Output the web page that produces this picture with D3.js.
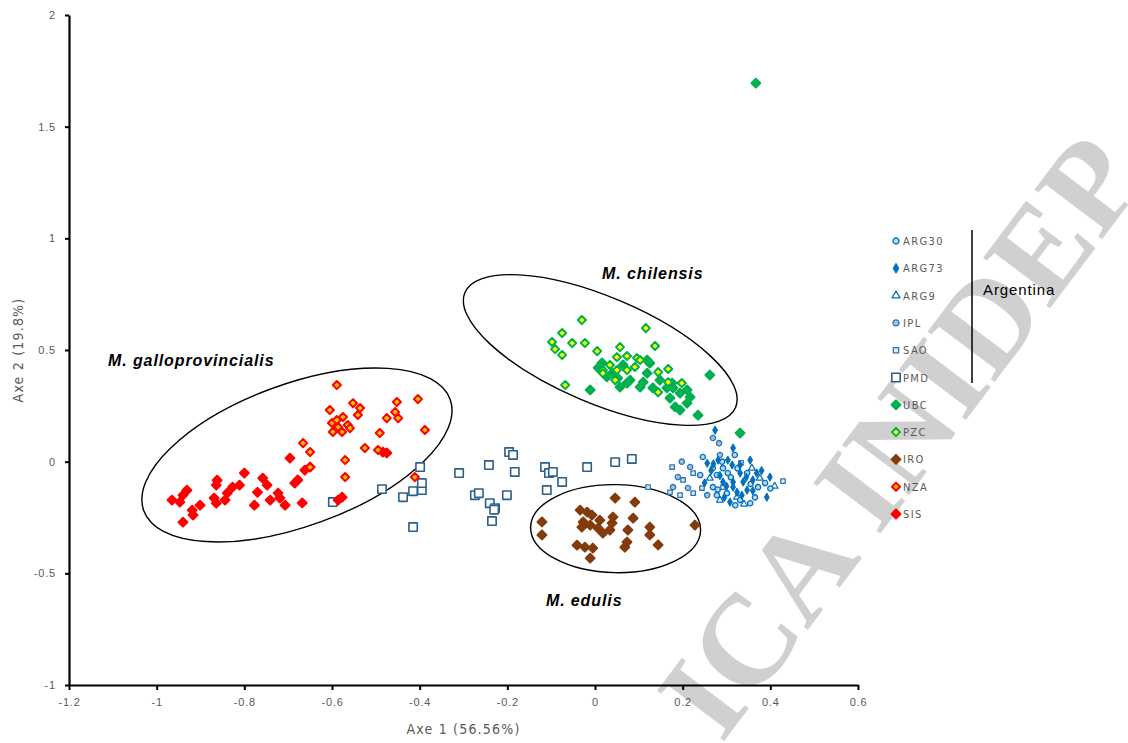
<!DOCTYPE html>
<html>
<head>
<meta charset="utf-8">
<script src="https://cdn.jsdelivr.net/npm/d3@7"></script>
<style>
body { margin: 0; background: #fff; }
text { font-family: "Liberation Sans Narrow", "DejaVu Sans Condensed", sans-serif; }
</style>
</head>
<body>
<svg id="chart" width="1128" height="743"></svg>
<script>
// axis ticks
const xTicks = [-1.2, -1, -0.8, -0.6, -0.4, -0.2, 0, 0.2, 0.4, 0.6];
const yTicks = [-1, -0.5, 0, 0.5, 1, 1.5, 2];

// population names, legend order
const groupNames = ["ARG30", "ARG73", "ARG9", "IPL", "SAO", "PMD", "UBC", "PZC", "IRO", "NZA", "SIS"];

// PCA scores [axe 1, axe 2]
const arg30 = [[0.246,0.021],[0.303,-0.051],[0.278,-0.060],[0.269,-0.114],[0.301,-0.141],[0.278,-0.150],[0.331,-0.172],
    [0.354,-0.186],[0.319,0.030],[0.347,-0.051],[0.372,-0.114],[0.388,-0.096],[0.292,-0.029],[0.290,0.000],[0.325,-0.030],
    [0.310,-0.070],[0.355,-0.100],[0.240,-0.060],[0.365,-0.160],[0.280,-0.125],[0.400,-0.120],[0.320,-0.195]];
const arg73 = [[0.256,-0.007],[0.281,0.007],[0.303,0.007],[0.313,-0.015],[0.331,-0.015],[0.354,0.007],[0.331,-0.051],
    [0.292,-0.091],[0.315,-0.091],[0.338,-0.091],[0.360,-0.082],[0.399,-0.069],[0.347,-0.127],[0.324,-0.137],[0.308,-0.181],
    [0.392,-0.159],[0.274,0.141],[0.315,0.061],[0.369,-0.051],[0.315,-0.114],[0.265,-0.040],[0.285,-0.062],[0.345,-0.070],
    [0.300,-0.110],[0.335,-0.150],[0.360,-0.130],[0.250,-0.095],[0.380,-0.040],[0.295,-0.160],[0.270,-0.010]];
const arg9 = [[0.376,-0.074],[0.358,-0.029],[0.285,-0.172],[0.324,-0.159],[0.410,-0.110],[0.340,-0.190],[0.262,-0.074]];
const ipl = [[0.198,0.000],[0.217,-0.024],[0.189,-0.069],[0.212,-0.118],[0.178,-0.114],[0.269,0.106],[0.283,0.083],
    [0.256,-0.150],[0.269,-0.029],[0.285,0.030]];
const sao = [[0.176,-0.024],[0.224,-0.051],[0.201,-0.082],[0.171,-0.137],[0.194,-0.150],[0.224,-0.141],[0.244,-0.118],
    [0.429,-0.087],[0.121,-0.114],[0.292,-0.114],[0.333,-0.005]];
const pmd = [[-0.486,-0.123],[-0.438,-0.159],[-0.415,-0.132],[-0.395,-0.127],[-0.399,-0.024],[-0.395,-0.096],[-0.415,-0.293],
    [-0.310,-0.051],[-0.274,-0.150],[-0.265,-0.141],[-0.242,-0.015],[-0.240,-0.186],[-0.228,-0.208],[-0.235,-0.266],
    [-0.201,-0.150],[-0.196,0.043],[-0.187,0.030],[-0.183,-0.046],[-0.114,-0.024],[-0.105,-0.051],[-0.096,-0.046],
    [-0.075,-0.091],[-0.110,-0.127],[-0.018,-0.024],[0.046,-0.002],[0.084,0.012],[-0.598,-0.181],[-0.230,-0.215]];
const ubc = [[0.262,0.388],[-0.011,0.321],[0.235,0.208],[0.016,0.442],[0.007,0.420],[0.027,0.380],[0.057,0.334],
    [0.073,0.352],[0.103,0.334],[0.110,0.356],[0.125,0.441],[0.119,0.455],[0.132,0.330],[0.148,0.365],[0.164,0.330],
    [0.178,0.330],[0.194,0.307],[0.210,0.321],[0.171,0.285],[0.183,0.245],[0.194,0.231],[0.210,0.262],[0.217,0.289],
    [0.176,0.352],[0.080,0.365],[0.064,0.433],[0.039,0.396],[0.052,0.374],[0.119,0.396],[0.331,0.128],[0.367,1.695]];
const pzc = [[-0.030,0.634],[0.116,0.598],[-0.075,0.576],[-0.098,0.536],[-0.091,0.504],[-0.075,0.478],[-0.052,0.531],
    [-0.023,0.531],[0.137,0.518],[0.005,0.495],[0.057,0.513],[0.050,0.468],[0.073,0.473],[0.096,0.464],[0.034,0.433],
    [0.050,0.410],[0.018,0.410],[0.073,0.410],[0.091,0.424],[0.018,0.396],[0.046,0.365],[0.144,0.401],[0.167,0.415],
    [0.167,0.356],[0.198,0.352],[0.144,0.311],[-0.068,0.343],[0.103,0.455]];
const iro = [[-0.121,-0.270],[-0.121,-0.328],[-0.034,-0.217],[-0.018,-0.226],[-0.007,-0.239],[-0.027,-0.270],[-0.030,-0.293],
    [-0.011,-0.284],[0.011,-0.262],[0.007,-0.298],[-0.023,-0.383],[-0.005,-0.387],[-0.011,-0.432],[0.018,-0.320],
    [0.034,-0.306],[0.041,-0.248],[0.046,-0.163],[0.039,-0.275],[0.075,-0.306],[0.073,-0.360],[0.068,-0.383],
    [0.087,-0.253],[0.091,-0.181],[0.125,-0.293],[0.125,-0.328],[0.144,-0.373],[0.228,-0.284],[-0.041,-0.374]];
const nza = [[-0.589,0.343],[-0.552,0.262],[-0.536,0.240],[-0.541,0.209],[-0.605,0.231],[-0.600,0.173],[-0.589,0.186],
    [-0.575,0.200],[-0.564,0.164],[-0.598,0.133],[-0.577,0.133],[-0.559,0.150],[-0.586,0.155],[-0.452,0.267],
    [-0.456,0.222],[-0.475,0.195],[-0.449,0.195],[-0.404,0.280],[-0.388,0.142],[-0.491,0.128],[-0.525,0.061],
    [-0.495,0.052],[-0.570,0.007],[-0.570,-0.069],[-0.666,0.083],[-0.650,0.043],[-0.650,-0.024],[-0.411,-0.069]];
const sis = [[-0.965,-0.172],[-0.940,-0.150],[-0.931,-0.128],[-0.947,-0.181],[-0.919,-0.217],[-0.917,-0.239],[-0.940,-0.271],
    [-0.901,-0.195],[-0.862,-0.083],[-0.864,-0.105],[-0.869,-0.163],[-0.864,-0.186],[-0.844,-0.172],[-0.839,-0.141],
    [-0.827,-0.114],[-0.811,-0.105],[-0.800,-0.051],[-0.770,-0.137],[-0.777,-0.195],[-0.758,-0.074],[-0.748,-0.105],
    [-0.741,-0.172],[-0.723,-0.141],[-0.719,-0.163],[-0.707,-0.195],[-0.696,0.016],[-0.685,-0.096],[-0.678,-0.082],
    [-0.668,-0.185],[-0.662,-0.038],[-0.650,-0.024],[-0.577,-0.159],[-0.586,-0.172],[-0.484,0.043],[-0.475,0.039]];

const groupPoints = { ARG30: arg30, ARG73: arg73, ARG9: arg9, IPL: ipl, SAO: sao, PMD: pmd,
    UBC: ubc, PZC: pzc, IRO: iro, NZA: nza, SIS: sis };

// species groupings: ellipse centre and label anchor, in axis units
const speciesNames = ["M. galloprovincialis", "M. chilensis", "M. edulis"];
const speciesCentres = [[-0.68, 0.03], [0.012, 0.50], [0.047, -0.30]];
const speciesLabelAt = [[-1.111, 0.428], [0.016, 0.817], [-0.112, -0.647]];

// marker styles
const styles = {
    ARG30: { shape: d3.symbolCircle, size: 22, fill: "#BDD7EE", stroke: "#0070C0", sw: 1.3 },
    ARG73: { shape: d3.symbolDiamond, size: 20, fill: "#0070C0", stroke: "#0070C0", sw: 1 },
    ARG9:  { shape: d3.symbolTriangle, size: 20, fill: "#fff", stroke: "#0070C0", sw: 1.2 },
    IPL:   { shape: d3.symbolCircle, size: 22, fill: "#9DC3E6", stroke: "#2E75B6", sw: 1.3 },
    SAO:   { shape: d3.symbolSquare, size: 20, fill: "#DEEBF7", stroke: "#2E75B6", sw: 1.3 },
    PMD:   { shape: d3.symbolSquare, size: 70, fill: "#fff", stroke: "#2E5F8C", sw: 1.6 },
    UBC:   { shape: d3.symbolDiamond2, size: 50, fill: "#00B050", stroke: "#00B050", sw: 2 },
    PZC:   { shape: d3.symbolDiamond2, size: 42, fill: "#FFFF00", stroke: "#00B050", sw: 2 },
    IRO:   { shape: d3.symbolDiamond2, size: 50, fill: "#843C0C", stroke: "#843C0C", sw: 2 },
    NZA:   { shape: d3.symbolDiamond2, size: 42, fill: "#FFC000", stroke: "#FF0000", sw: 2 },
    SIS:   { shape: d3.symbolDiamond2, size: 50, fill: "#FF0000", stroke: "#FF0000", sw: 2 }
};
const drawOrder = ["PMD", "SAO", "IPL", "ARG9", "ARG30", "ARG73", "UBC", "PZC", "IRO", "SIS", "NZA"];

const svg = d3.select("#chart");

const x = d3.scaleLinear().domain([-1.2, 0.6]).range([69, 858]);
const y = d3.scaleLinear().domain([-1, 2]).range([685, 15]);

// watermark, underneath everything
svg.append("text")
    .attr("transform", "translate(900, 436) rotate(-53)")
    .attr("text-anchor", "middle")
    .attr("dominant-baseline", "central")
    .attr("fill", "#D0D0D0")
    .style("font-family", "'Liberation Serif', serif")
    .style("font-weight", "bold")
    .style("font-size", "128px")
    .text("ICA INIDEP");

// x-axis
const xAxis = svg.append("g")
    .attr("transform", `translate(0, ${y(-1)})`)
    .call(d3.axisBottom(x).tickValues(xTicks).tickSize(5).tickSizeOuter(0).tickPadding(8).tickFormat(d => String(d)));
// y-axis
const yAxis = svg.append("g")
    .attr("transform", `translate(${x(-1.2)}, 0)`)
    .call(d3.axisLeft(y).tickValues(yTicks).tickSize(4).tickSizeOuter(0).tickPadding(9).tickFormat(d => String(d)));

[xAxis, yAxis].forEach(function (g) {
    g.select(".domain").attr("stroke", "#000").attr("stroke-width", 2.2);
    g.selectAll(".tick line").attr("stroke", "#000").attr("stroke-width", 2);
    g.selectAll(".tick text")
        .attr("fill", "#595959")
        .style("font-size", "11px")
        .style("letter-spacing", "0.8px")
        .style("font-family", "'Liberation Sans Narrow', sans-serif");
});

// axis titles
svg.append("text")
    .attr("x", (x(-1.2) + x(0.6)) / 2)
    .attr("y", 734)
    .attr("text-anchor", "middle")
    .attr("fill", "#595959")
    .style("font-size", "14px")
    .style("letter-spacing", "1.2px")
    .text("Axe 1 (56.56%)");
svg.append("text")
    .attr("transform", `translate(23, ${y(0.5)}) rotate(-90)`)
    .attr("text-anchor", "middle")
    .attr("fill", "#595959")
    .style("font-size", "14px")
    .style("letter-spacing", "1.2px")
    .text("Axe 2 (19.8%)");

// ellipses around species (pixel radii and tilt)
const ellipseShape = [
    { rx: 163, ry: 71, angle: -20 },
    { rx: 147, ry: 53, angle: 23 },
    { rx: 85, ry: 44, angle: 1 }
];
svg.append("g")
    .selectAll("ellipse")
    .data(speciesCentres)
    .join("ellipse")
    .attr("transform", (d, i) => `translate(${x(d[0])}, ${y(d[1])}) rotate(${ellipseShape[i].angle})`)
    .attr("rx", (d, i) => ellipseShape[i].rx)
    .attr("ry", (d, i) => ellipseShape[i].ry)
    .attr("fill", "none")
    .attr("stroke", "#000")
    .attr("stroke-width", 1.4);

// points
drawOrder.forEach(function (name) {
    const s = styles[name];
    svg.append("g")
        .selectAll("path")
        .data(groupPoints[name])
        .join("path")
        .attr("transform", d => `translate(${x(d[0])}, ${y(d[1])})`)
        .attr("d", d3.symbol(s.shape, s.size)())
        .attr("fill", s.fill)
        .attr("stroke", s.stroke)
        .attr("stroke-width", s.sw)
        .attr("stroke-linejoin", "round");
});

// species labels
svg.append("g")
    .selectAll("text")
    .data(speciesNames)
    .join("text")
    .attr("x", (d, i) => x(speciesLabelAt[i][0]))
    .attr("y", (d, i) => y(speciesLabelAt[i][1]))
    .attr("fill", "#000")
    .style("font-family", "'Liberation Sans', Arial, sans-serif")
    .style("font-size", "16px")
    .style("font-weight", "bold")
    .style("font-style", "italic")
    .style("letter-spacing", "0.9px")
    .text(d => d);

// legend
const legendX = 896;
const legendY0 = 241;
const legendStep = 27.3;
const legend = svg.append("g");
groupNames.forEach(function (name, i) {
    const s = styles[name];
    const ly = legendY0 + i * legendStep;
    legend.append("path")
        .attr("transform", `translate(${legendX}, ${ly})`)
        .attr("d", d3.symbol(s.shape, name === "PMD" ? 70 : Math.max(s.size, 28))())
        .attr("fill", s.fill)
        .attr("stroke", s.stroke)
        .attr("stroke-width", s.sw)
        .attr("stroke-linejoin", "round");
    legend.append("text")
        .attr("x", legendX + 7)
        .attr("y", ly + 4)
        .attr("fill", "#595959")
        .style("font-size", "11px")
        .style("letter-spacing", "1.4px")
        .text(name);
});
legend.append("line")
    .attr("x1", 972).attr("x2", 972)
    .attr("y1", 230).attr("y2", 383)
    .attr("stroke", "#000")
    .attr("stroke-width", 1.5);
legend.append("text")
    .attr("x", 983)
    .attr("y", 295)
    .attr("fill", "#000")
    .style("font-family", "'Liberation Sans', Arial, sans-serif")
    .style("font-size", "15px")
    .style("letter-spacing", "0.9px")
    .text("Argentina");
</script>
</body>
</html>
